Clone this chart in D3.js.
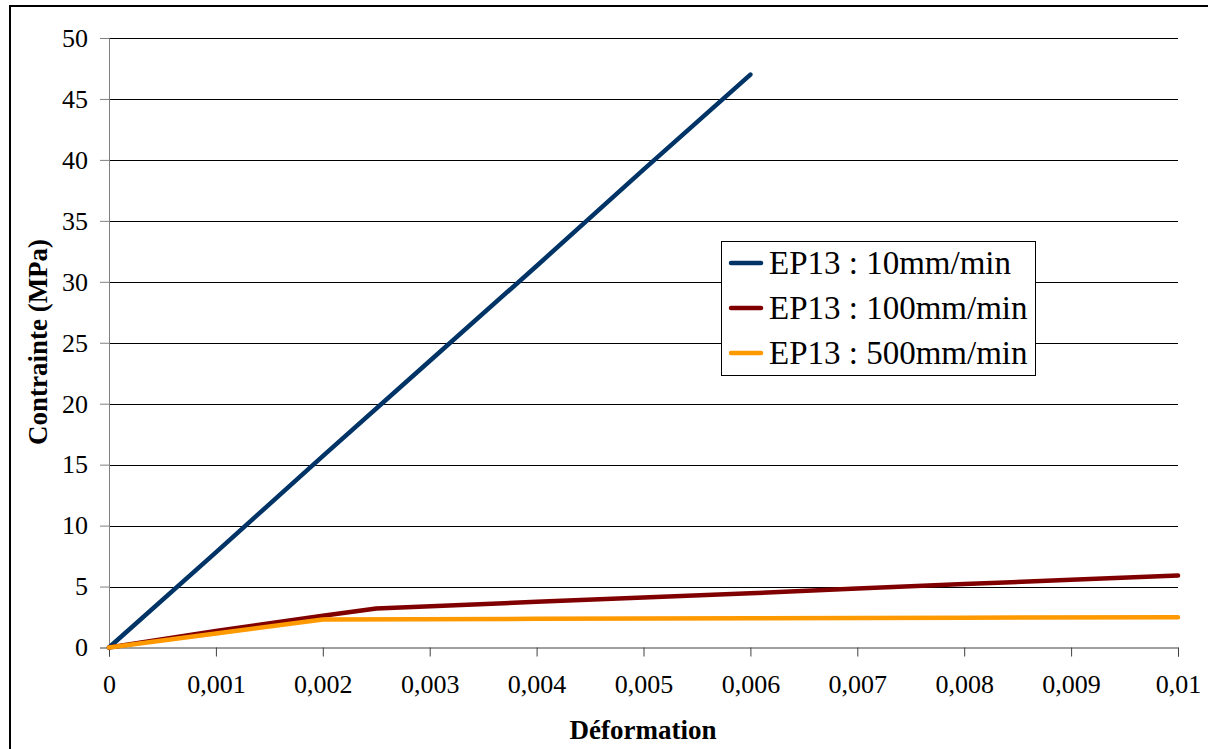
<!DOCTYPE html>
<html><head><meta charset="utf-8">
<script src="https://cdn.jsdelivr.net/npm/d3@7"></script>
<style>body{margin:0;background:#fff}svg{display:block}</style>
</head><body>
<script>
const seriesNames = ["EP13 : 10mm/min", "EP13 : 100mm/min", "EP13 : 500mm/min"];
const seriesColors = ["#003366", "#800000", "#ff9900"];
const s10 = [[0,0],[0.001,7.8],[0.002,15.7],[0.003,23.5],[0.004,31.3],[0.005,39.2],[0.006,47.0]];
const s100 = [[0,0],[0.001,1.35],[0.002,2.6],[0.0025,3.2],[0.004,3.75],[0.005,4.1],[0.006,4.45],[0.007,4.85],[0.008,5.2],[0.009,5.55],[0.01,5.9]];
const s500 = [[0,0],[0.001,1.15],[0.002,2.3],[0.004,2.35],[0.006,2.4],[0.008,2.45],[0.01,2.48]];
const xTicks = [0,0.001,0.002,0.003,0.004,0.005,0.006,0.007,0.008,0.009,0.01];
const xTickLabels = ["0","0,001","0,002","0,003","0,004","0,005","0,006","0,007","0,008","0,009","0,01"];
const yTicks = [0,5,10,15,20,25,30,35,40,45,50];
const series = [s10, s100, s500];

const W = 1208, H = 749;
const svg = d3.select("body").append("svg").attr("width", W).attr("height", H);
const font = "'Liberation Serif', 'Times New Roman', serif";

svg.append("rect").attr("x", 10).attr("y", 6).attr("width", W + 10).attr("height", H + 10)
  .attr("fill", "none").attr("stroke", "#000").attr("stroke-width", 2);

const x = d3.scaleLinear().domain([0, 0.01]).range([109, 1178]);
const y = d3.scaleLinear().domain([0, 50]).range([647.5, 38]);

// gridlines
svg.append("g").selectAll("line").data(yTicks.slice(1)).join("line")
  .attr("x1", x(0)).attr("x2", x(0.01))
  .attr("y1", d => Math.round(y(d)) + 0.5).attr("y2", d => Math.round(y(d)) + 0.5)
  .attr("stroke", "#000").attr("stroke-width", 1);

// y axis
const yAxis = svg.append("g").attr("transform", `translate(${x(0)},0)`)
  .call(d3.axisLeft(y).tickValues(yTicks).tickSize(9).tickPadding(12).tickFormat(d => d));
yAxis.select(".domain").attr("stroke", "#808080");
yAxis.selectAll(".tick line").attr("stroke", "#808080");
yAxis.selectAll("text").attr("font-family", font).attr("font-size", 26).attr("fill", "#000");

// x axis
const xAxis = svg.append("g").attr("transform", `translate(0,${y(0)})`)
  .call(d3.axisBottom(x).tickValues(xTicks).tickSize(9).tickPadding(18).tickFormat((d, i) => xTickLabels[i]));
xAxis.select(".domain").attr("stroke", "#404040");
xAxis.selectAll(".tick line").attr("stroke", "#404040");
xAxis.selectAll("text").attr("font-family", font).attr("font-size", 26).attr("fill", "#000");

// lines
const line = d3.line().x(d => x(d[0])).y(d => y(d[1]));
series.forEach((s, i) => {
  svg.append("path").datum(s).attr("d", line).attr("fill", "none")
    .attr("stroke", seriesColors[i]).attr("stroke-width", 4.5)
    .attr("stroke-linecap", "round").attr("stroke-linejoin", "round");
});

// axis titles
svg.append("text").attr("x", 643).attr("y", 739).attr("text-anchor", "middle")
  .attr("font-family", font).attr("font-weight", "bold").attr("font-size", 27).text("Déformation");
svg.append("text").attr("transform", "translate(47,342) rotate(-90)").attr("text-anchor", "middle")
  .attr("font-family", font).attr("font-weight", "bold").attr("font-size", 27).text("Contrainte (MPa)");

// legend
const lg = svg.append("g");
lg.append("rect").attr("x", 721.5).attr("y", 241.5).attr("width", 314).attr("height", 134)
  .attr("fill", "#fff").attr("stroke", "#000").attr("stroke-width", 1);
seriesNames.forEach((n, i) => {
  const cy = 263 + i * 45;
  lg.append("line").attr("x1", 731).attr("x2", 761).attr("y1", cy).attr("y2", cy)
    .attr("stroke", seriesColors[i]).attr("stroke-width", 4.5).attr("stroke-linecap", "round");
  lg.append("text").attr("x", 769).attr("y", cy + 11).attr("font-family", font)
    .attr("font-size", 33).text(n);
});
</script>
</body></html>
